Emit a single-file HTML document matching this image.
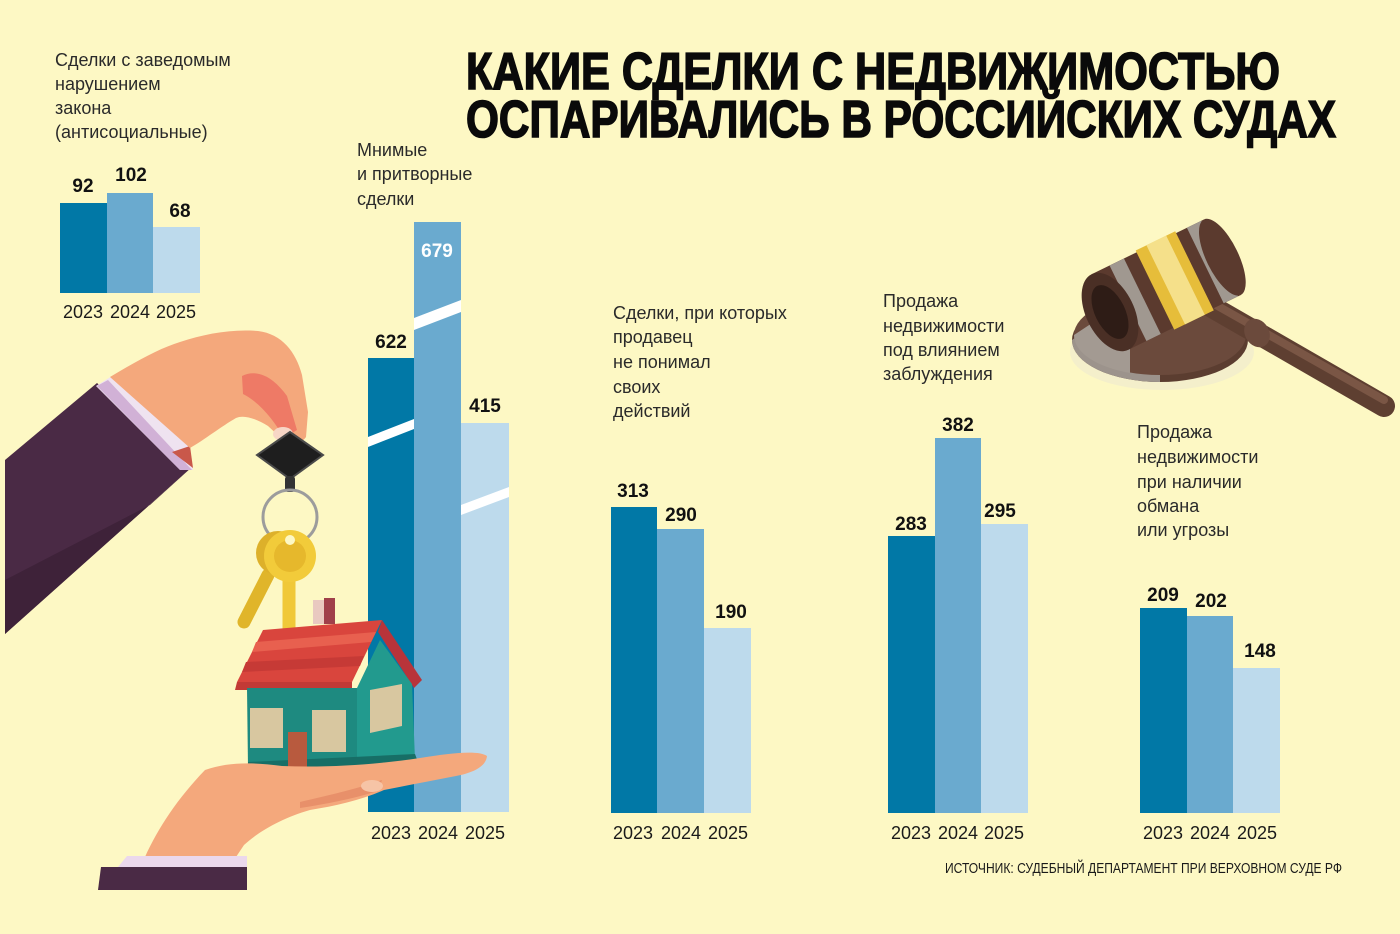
<!DOCTYPE html>
<html><head><meta charset="utf-8">
<style>
html,body{margin:0;padding:0;background:#FDF8C4;}
svg{display:block;}
.t{font-family:"Liberation Sans","DejaVu Sans",sans-serif;font-size:18px;fill:#2a2a2a;}
.y{font-family:"Liberation Sans","DejaVu Sans",sans-serif;font-size:18px;fill:#1a1a1a;text-anchor:middle;}
.n{font-family:"Liberation Sans","DejaVu Sans",sans-serif;font-size:19px;font-weight:bold;fill:#111;text-anchor:middle;}
.h{font-family:"Liberation Sans","DejaVu Sans",sans-serif;font-size:52px;font-weight:bold;fill:#0a0a0a;stroke:#0a0a0a;stroke-width:1.6px;}
</style></head>
<body>
<svg width="1400" height="934" viewBox="0 0 1400 934" xmlns="http://www.w3.org/2000/svg">
<rect width="1400" height="934" fill="#FDF8C4"/>

<!-- Title -->
<text class="h" x="466" y="89" textLength="814" lengthAdjust="spacingAndGlyphs">КАКИЕ СДЕЛКИ С НЕДВИЖИМОСТЬЮ</text>
<text class="h" x="466" y="137" textLength="870" lengthAdjust="spacingAndGlyphs">ОСПАРИВАЛИСЬ В РОССИЙСКИХ СУДАХ</text>

<!-- Group 1 -->
<text class="t" x="55" y="66">Сделки с заведомым</text>
<text class="t" x="55" y="90">нарушением</text>
<text class="t" x="55" y="114">закона</text>
<text class="t" x="55" y="138">(антисоциальные)</text>
<rect x="60" y="203" width="47" height="90" fill="#0178A6"/>
<rect x="107" y="193" width="46" height="100" fill="#6AAACF"/>
<rect x="153" y="227" width="47" height="66" fill="#BDDAEC"/>
<text class="n" x="83" y="192">92</text>
<text class="n" x="131" y="181">102</text>
<text class="n" x="180" y="217">68</text>
<text class="y" x="83" y="318">2023</text>
<text class="y" x="130" y="318">2024</text>
<text class="y" x="176" y="318">2025</text>

<!-- Group 2 bars -->
<text class="t" x="357" y="156">Мнимые</text>
<text class="t" x="357" y="180">и притворные</text>
<text class="t" x="357" y="205">сделки</text>
<rect x="368" y="358" width="46" height="454" fill="#0178A6"/>
<rect x="414" y="222" width="47" height="590" fill="#6AAACF"/>
<rect x="461" y="423" width="48" height="389" fill="#BDDAEC"/>
<polygon points="414,318 461,300 461,312 414,330" fill="#FFFFFF"/>
<polygon points="368,437 414,419 414,429 368,447" fill="#FFFFFF"/>
<polygon points="461,505 509,487 509,497 461,515" fill="#FFFFFF"/>
<text class="n" x="391" y="348">622</text>
<text class="n" x="437" y="257" style="fill:#fff">679</text>
<text class="n" x="485" y="412">415</text>
<text class="y" x="391" y="839">2023</text>
<text class="y" x="438" y="839">2024</text>
<text class="y" x="485" y="839">2025</text>

<!-- Upper hand illustration -->
<path d="M5,460 L97,383 L192,467 L5,634 Z" fill="#4A2A45"/>
<path d="M5,580 L150,505 L192,467 L5,634 Z" fill="#3E2239"/>
<path d="M96,386 L112,376 L188,446 L193,470 L180,470 Z" fill="#EFE3F0"/>
<path d="M97,386 L180,470 L192,470 L108,380 Z" fill="#C9A4CF" opacity="0.8"/>
<path d="M172,452 L190,446 L193,468 Z" fill="#C9584A"/>
<path d="M110,377 C135,362 160,348 180,342 C205,334 230,329 258,331 C282,334 296,352 302,375 L308,412 L306,437 C300,446 288,444 281,438 L268,426 C258,420 245,414 236,418 C222,426 204,440 190,448 Z" fill="#F4A87C"/>
<path d="M242,376 C258,368 274,378 287,396 L297,430 L284,438 C274,420 259,402 243,394 Z" fill="#EE7A66"/>
<ellipse cx="283" cy="434" rx="10" ry="7" fill="#F7D6C6"/>

<!-- Key fob, ring, keys -->
<polygon points="290,432 323,455 290,479 257,455" fill="#1E1E1E" stroke="#4a4a4a" stroke-width="2"/>
<rect x="285" y="476" width="10" height="16" rx="3" fill="#333"/>
<ellipse cx="290" cy="517" rx="27" ry="27" fill="none" stroke="#9C9C9C" stroke-width="3"/>
<line x1="268" y1="575" x2="244" y2="622" stroke="#E0B52A" stroke-width="13" stroke-linecap="round"/>
<line x1="289" y1="578" x2="289" y2="640" stroke="#F0C838" stroke-width="13" stroke-linecap="round"/>
<circle cx="278" cy="553" r="22" fill="#DDB02A"/>
<circle cx="290" cy="556" r="26" fill="#F2CB3A"/>
<circle cx="290" cy="556" r="16" fill="#E6B82C"/>
<circle cx="290" cy="540" r="5" fill="#FDF8C4"/>

<!-- House -->
<rect x="313" y="600" width="11" height="24" fill="#E9C9C0"/>
<rect x="324" y="598" width="11" height="26" fill="#A0404A"/>
<polygon points="263,630 382,620 352,682 237,682" fill="#D9453D"/>
<polygon points="256,642 376,632 371,642 252,652" fill="#E8604F"/>
<polygon points="246,662 364,656 360,666 242,672" fill="#C63A36"/>
<polygon points="237,682 352,682 352,690 235,690" fill="#C23A36"/>
<polygon points="382,620 422,680 414,688 378,632" fill="#B8343A"/>
<polygon points="247,688 357,688 357,768 248,768" fill="#1E8A80"/>
<polygon points="357,688 380,640 412,684 415,760 357,772" fill="#229A8E"/>
<polygon points="248,762 415,754 418,762 248,772" fill="#176E66"/>
<rect x="250" y="708" width="33" height="40" fill="#D8C7A0"/>
<rect x="312" y="710" width="34" height="42" fill="#D8C7A0"/>
<polygon points="370,690 402,684 402,726 370,733" fill="#D8C7A0"/>
<rect x="288" y="732" width="19" height="36" fill="#B85A3E"/>

<!-- Lower hand -->
<path d="M145,857 C158,828 178,798 205,770 C228,762 252,762 282,766 C330,768 380,764 420,758 C452,753 478,750 487,756 C486,767 472,773 456,776 C430,781 404,786 384,790 C362,800 335,806 310,810 C282,818 258,832 244,845 L236,857 Z" fill="#F4A87C"/>
<path d="M300,802 C330,795 360,788 382,780 L378,791 C352,799 326,804 300,808 Z" fill="#E8906A"/>
<ellipse cx="372" cy="786" rx="11" ry="6" fill="#F6C4A6"/>
<polygon points="127,856 247,856 247,867 118,867" fill="#EBD8EC"/>
<polygon points="101,867 247,867 247,890 98,890" fill="#4A2A45"/>

<!-- Group 3 -->
<text class="t" x="613" y="319">Сделки, при которых</text>
<text class="t" x="613" y="343">продавец</text>
<text class="t" x="613" y="368">не понимал</text>
<text class="t" x="613" y="393">своих</text>
<text class="t" x="613" y="417">действий</text>
<rect x="611" y="507" width="46" height="306" fill="#0178A6"/>
<rect x="657" y="529" width="47" height="284" fill="#6AAACF"/>
<rect x="704" y="628" width="47" height="185" fill="#BDDAEC"/>
<text class="n" x="633" y="497">313</text>
<text class="n" x="681" y="521">290</text>
<text class="n" x="731" y="618">190</text>
<text class="y" x="633" y="839">2023</text>
<text class="y" x="681" y="839">2024</text>
<text class="y" x="728" y="839">2025</text>

<!-- Group 4 -->
<text class="t" x="883" y="307">Продажа</text>
<text class="t" x="883" y="332">недвижимости</text>
<text class="t" x="883" y="356">под влиянием</text>
<text class="t" x="883" y="380">заблуждения</text>
<rect x="888" y="536" width="47" height="277" fill="#0178A6"/>
<rect x="935" y="438" width="46" height="375" fill="#6AAACF"/>
<rect x="981" y="524" width="47" height="289" fill="#BDDAEC"/>
<text class="n" x="911" y="530">283</text>
<text class="n" x="958" y="431">382</text>
<text class="n" x="1000" y="517">295</text>
<text class="y" x="911" y="839">2023</text>
<text class="y" x="958" y="839">2024</text>
<text class="y" x="1004" y="839">2025</text>

<!-- Gavel -->
<ellipse cx="1162" cy="352" rx="92" ry="38" fill="#E9E4D4" opacity="0.45"/>
<ellipse cx="1160" cy="340" rx="88" ry="42" fill="#5B3D30"/>
<path d="M1072,340 A88,42 0 0 0 1160,382 L1160,368 A80,34 0 0 1 1080,334 Z" fill="#9C938C"/>
<ellipse cx="1160" cy="335" rx="86" ry="40" fill="#6B4A3C"/>
<path d="M1074,335 A86,40 0 0 0 1130,373 L1130,298 Z" fill="#A39A92"/>
<line x1="1200" y1="300" x2="1384" y2="406" stroke="#5E3F31" stroke-width="22" stroke-linecap="round"/>
<line x1="1200" y1="296" x2="1384" y2="400" stroke="#7A5645" stroke-width="8" stroke-linecap="round"/>
<ellipse cx="1257" cy="333" rx="12" ry="15" fill="#6B4A3C" transform="rotate(-30 1257 333)"/>
<g transform="rotate(-26 1110 312)">
  <rect x="1110" y="270" width="125" height="84" fill="#5B3A2E"/>
  <rect x="1130" y="270" width="16" height="84" fill="#A09890"/>
  <rect x="1160" y="268" width="44" height="88" fill="#E6BD3A"/>
  <rect x="1172" y="268" width="22" height="88" fill="#F5E08A"/>
  <rect x="1216" y="270" width="16" height="84" fill="#A09890"/>
  <ellipse cx="1235" cy="312" rx="16" ry="42" fill="#5B3A2E"/>
  <ellipse cx="1110" cy="312" rx="24" ry="42" fill="#4A2F25"/>
  <ellipse cx="1110" cy="312" rx="15" ry="29" fill="#2E1C16"/>
</g>

<!-- Group 5 -->
<text class="t" x="1137" y="438">Продажа</text>
<text class="t" x="1137" y="463">недвижимости</text>
<text class="t" x="1137" y="488">при наличии</text>
<text class="t" x="1137" y="512">обмана</text>
<text class="t" x="1137" y="536">или угрозы</text>
<rect x="1140" y="608" width="47" height="205" fill="#0178A6"/>
<rect x="1187" y="616" width="46" height="197" fill="#6AAACF"/>
<rect x="1233" y="668" width="47" height="145" fill="#BDDAEC"/>
<text class="n" x="1163" y="601">209</text>
<text class="n" x="1211" y="607">202</text>
<text class="n" x="1260" y="657">148</text>
<text class="y" x="1163" y="839">2023</text>
<text class="y" x="1210" y="839">2024</text>
<text class="y" x="1257" y="839">2025</text>

<!-- Source -->
<text x="945" y="873" textLength="397" lengthAdjust="spacingAndGlyphs" style="font-family:'Liberation Sans','DejaVu Sans',sans-serif;font-size:15px;fill:#1a1a1a;">ИСТОЧНИК: СУДЕБНЫЙ ДЕПАРТАМЕНТ ПРИ ВЕРХОВНОМ СУДЕ РФ</text>
</svg>
</body></html>
